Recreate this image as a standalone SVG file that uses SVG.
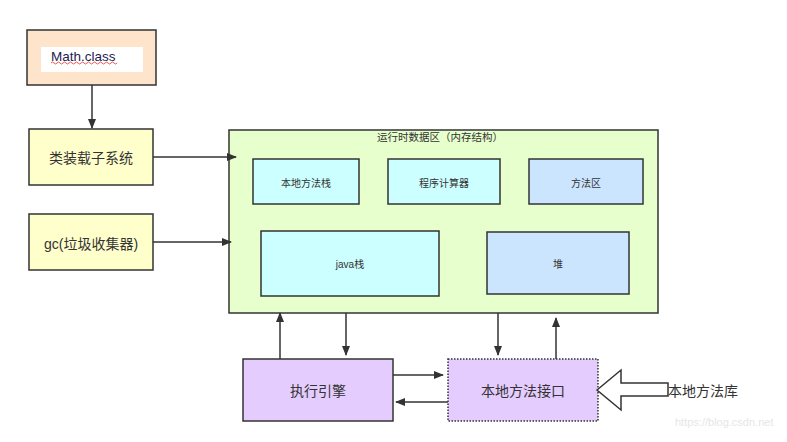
<svg xmlns="http://www.w3.org/2000/svg" width="787" height="442" viewBox="0 0 787 442">
<style>
.b{stroke:#333;stroke-width:1.5}
.t{font-family:"Liberation Sans","Noto Sans CJK SC",sans-serif;fill:#333;text-anchor:middle;dominant-baseline:central}
.c{stroke:#333;stroke-width:1.5;fill:none}
</style>
<defs>
<marker id="ah" markerWidth="10" markerHeight="8" refX="9" refY="4" orient="auto" markerUnits="userSpaceOnUse">
<path d="M0,0 L10,4 L0,8 Z" fill="#333"/>
</marker>
</defs>
<rect width="787" height="442" fill="#fff"/>
<g id="math">
<rect class="b" x="27" y="30" width="129" height="55" fill="#FFE4CC"/>
<rect x="41" y="47" width="102" height="25" fill="#fff"/>
<text x="51" y="56" class="t" style="text-anchor:start;fill:#1c1c50" font-size="13.5">Math.class</text>
<path d="M51,63 q1.5,-2 3,0 t3,0 t3,0 t3,0 t3,0 t3,0 t3,0 t3,0 t3,0 t3,0 t3,0 t3,0 t3,0 t3,0 t3,0 t3,0 t3,0 t3,0 t3,0 t3,0 t3,0 t3,0" stroke="#e03030" stroke-width="0.8" fill="none"/>
</g>
<g id="classloader">
<rect class="b" x="29" y="129" width="124" height="56" fill="#FFFFCC"/>
<text x="91" y="158" class="t" font-size="14">类装载子系统</text>
</g>
<g id="gc">
<rect class="b" x="29" y="214" width="124" height="56" fill="#FFFFCC"/>
<text x="91" y="244" class="t" font-size="14">gc(垃圾收集器)</text>
</g>
<g id="runtime">
<rect class="b" x="229" y="130" width="429" height="183" fill="#E6FFCC"/>
<text x="440" y="137" class="t" font-size="10.5">运行时数据区（内存结构）</text>
</g>
<g id="nativestack">
<rect class="b" x="253" y="159" width="106" height="45" fill="#CCFFFF" stroke-width="2"/>
<text x="306" y="183" class="t" font-size="10">本地方法栈</text>
</g>
<g id="pc">
<rect class="b" x="388" y="159" width="112" height="45" fill="#CCFFFF"/>
<text x="444" y="183" class="t" font-size="10">程序计算器</text>
</g>
<g id="methodarea">
<rect class="b" x="529" y="159" width="114" height="45" fill="#CCE5FF"/>
<text x="586" y="183" class="t" font-size="10">方法区</text>
</g>
<g id="javastack">
<rect class="b" x="261" y="231" width="178" height="65" fill="#CCFFFF"/>
<text x="350" y="264" class="t" font-size="10">java栈</text>
</g>
<g id="heap">
<rect class="b" x="487" y="232" width="142" height="62" fill="#CCE5FF"/>
<text x="558" y="264" class="t" font-size="10">堆</text>
</g>
<g id="engine">
<rect class="b" x="243" y="359" width="150" height="62" fill="#E5CCFF"/>
<text x="318" y="391" class="t" font-size="14">执行引擎</text>
</g>
<g id="nativeinterface">
<rect x="448" y="359" width="150" height="62" fill="#E5CCFF" stroke="#333" stroke-width="1.5" stroke-dasharray="1.5,1.5"/>
<text x="523" y="391" class="t" font-size="14">本地方法接口</text>
</g>
<g id="nativelib">
<path d="M597,390 L621,370 L621,383 L668,383 L668,396 L621,396 L621,410 Z" fill="#fff" stroke="#333" stroke-width="1.5"/>
<text x="668" y="391" class="t" style="text-anchor:start" font-size="14">本地方法库</text>
</g>
<g id="connectors">
<path class="c" d="M92,85 L92,128" marker-end="url(#ah)"/>
<path class="c" d="M153,157 L236,157" marker-end="url(#ah)"/>
<path class="c" d="M153,242 L231,242" marker-end="url(#ah)"/>
<path class="c" d="M280,359 L280,313" marker-end="url(#ah)"/>
<path class="c" d="M346,313 L346,355" marker-end="url(#ah)"/>
<path class="c" d="M498,313 L498,355" marker-end="url(#ah)"/>
<path class="c" d="M556,359 L556,318" marker-end="url(#ah)"/>
<path class="c" d="M393,375 L443,375" marker-end="url(#ah)"/>
<path class="c" d="M448,402 L396,402" marker-end="url(#ah)"/>
</g>
<text x="675" y="422" style="font-family:'Liberation Sans',sans-serif;fill:#e6e6e6;dominant-baseline:central" font-size="11">https://blog.csdn.net</text>
</svg>
